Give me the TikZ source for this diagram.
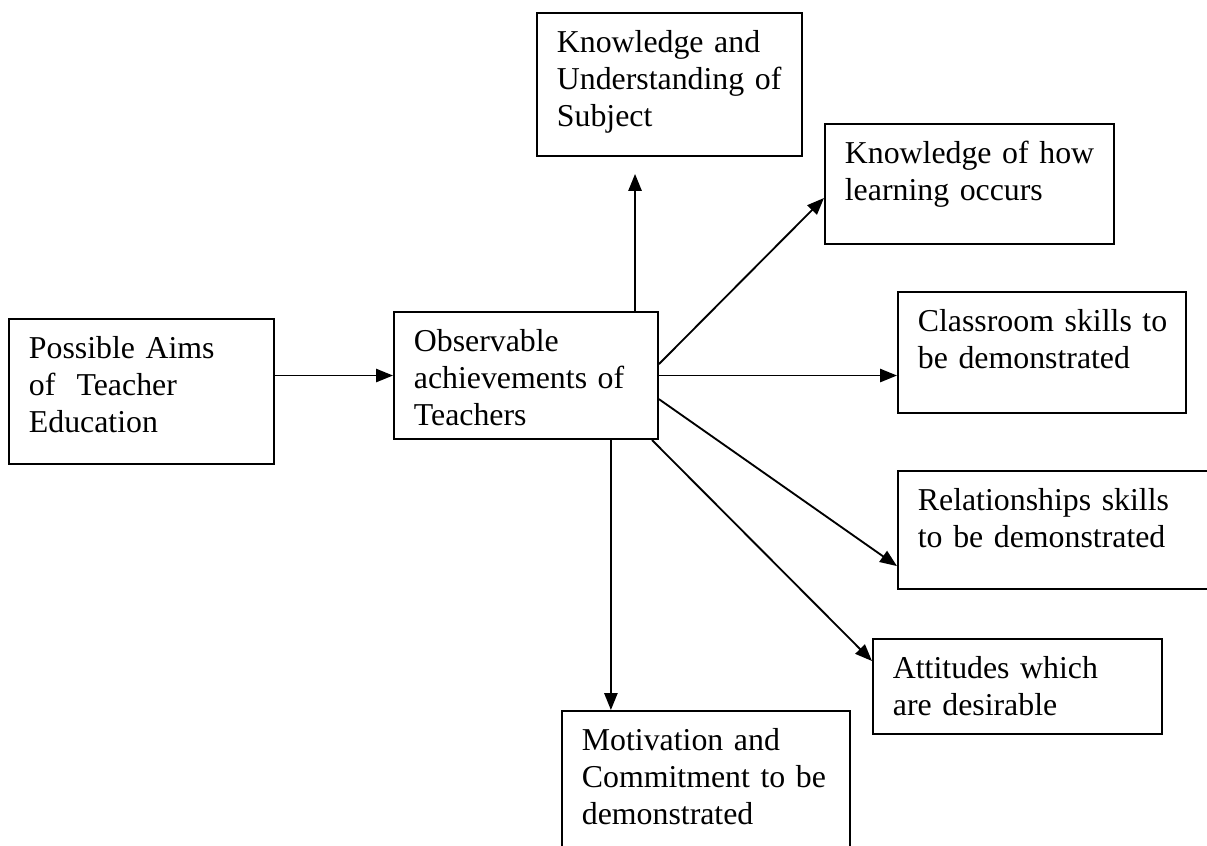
\documentclass[tikz,border=0pt]{standalone}
\usepackage{fontspec}
\setmainfont{Liberation Serif}
\usetikzlibrary{arrows.meta}
\begin{document}
\begin{tikzpicture}[x=0.377pt, y=-0.377pt, >={Triangle[length=6.4pt,width=5pt]},
		box/.style={draw, line width=0.75pt, anchor=north west, inner xsep=7.5pt, inner ysep=0pt, align=left, text height=15pt, font=\fontsize{12}{13.95}\selectfont},
		link/.style={->, line width=0.7pt}]
	\clip (0,0) rectangle (1207,846);
	\node[box, text width=84.9pt, text depth=39.7pt] (aims) at (8,318) {Possible Aims\\of\ \ Teacher\\Education};
	\node[box, text width=84.5pt, text depth=32.9pt] (obs) at (393,311) {Observable\\\mbox{achievements of}\\Teachers};
	\node[box, text width=84.9pt, text depth=38.9pt] (subj) at (536,12) {Knowledge and\\\mbox{Understanding of}\\Subject};
	\node[box, text width=94pt, text depth=30.2pt] (learn) at (824,123) {\mbox{Knowledge of how}\\learning occurs};
	\node[box, text width=93.6pt, text depth=30.6pt] (class) at (897,291) {\mbox{Classroom skills to}\\be demonstrated};
	\node[box, text width=109pt, text depth=29.5pt] (rel) at (897,470) {Relationships skills\\to be demonstrated};
	\node[box, text width=94pt, text depth=20.8pt] (att) at (872,638) {Attitudes which\\are desirable};
	\node[box, text width=93.6pt, text depth=41.6pt] (motiv) at (561,710) {Motivation and\\\mbox{Commitment to be}\\demonstrated};
	
	\draw[link] (aims.east |- obs.west) -- (obs.west);
	\draw[link, shorten >=6.4pt] ([xshift=-9pt]obs.north east) -- ([xshift=-9pt]obs.north east |- subj.south);
	\draw[link] ([yshift=4.3pt]obs.east) -- ([yshift=-5.3pt]learn.west);
	\draw[link] (obs.east) -- (obs.east -| class.west);
	\draw[link] ([yshift=-8.9pt]obs.east) -- ([yshift=-13.6pt]rel.west);
	\draw[link] ([xshift=-2.6pt]obs.south east) -- ([yshift=9.6pt]att.west);
	\draw[link] ([xshift=-18.1pt]obs.south east) -- ([xshift=-18.1pt]obs.south east |- motiv.north);
\end{tikzpicture}
\end{document}
